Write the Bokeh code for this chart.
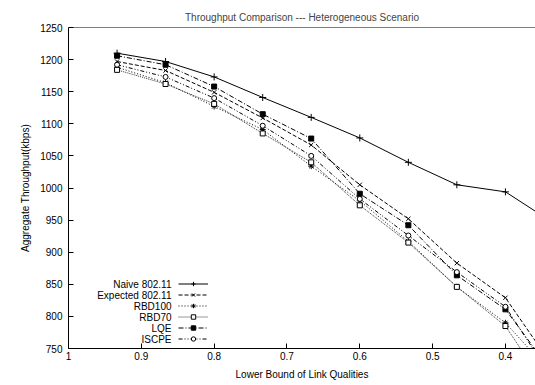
from bokeh.plotting import figure
from bokeh.models import (Range1d, FixedTicker, Legend, LegendItem, Label, Span)
from bokeh.embed import file_html
from bokeh.resources import INLINE

# ---- data ----
link_quality = [0.9333, 0.8667, 0.8, 0.7333, 0.6667, 0.6, 0.5333, 0.4667, 0.4, 0.3333]
naive_80211 = [1210, 1197, 1173, 1141, 1110, 1078, 1040, 1005, 994, 945]
expected_80211 = [1197, 1183, 1149, 1109, 1067, 1005, 952, 883, 829, 720]
rbd100 = [1188, 1164, 1127, 1091, 1034, 980, 917, 846, 790, 707]
rbd70 = [1184, 1162, 1131, 1085, 1040, 973, 915, 846, 785, 672]
lqe = [1206, 1192, 1158, 1115, 1077, 991, 942, 864, 811, 709]
iscpe = [1192, 1173, 1140, 1097, 1050, 983, 926, 869, 815, 700]

series_names = ["Naive 802.11", "Expected 802.11", "RBD100", "RBD70", "LQE", "ISCPE"]
series_values = [naive_80211, expected_80211, rbd100, rbd70, lqe, iscpe]

x_ticks = [1.0, 0.9, 0.8, 0.7, 0.6, 0.5, 0.4]
x_tick_labels = ["1", "0.9", "0.8", "0.7", "0.6", "0.5", "0.4"]
y_ticks = [750, 800, 850, 900, 950, 1000, 1050, 1100, 1150, 1200, 1250]
x_min, x_max = 1.0, 0.3587
y_min, y_max = 750, 1250

# ---- styles ----
FONT = "Liberation Sans"
styles = [
    dict(dash="solid", marker="cross", size=7, fill=None, color="black"),
    dict(dash="4 2", marker="x", size=6, fill=None, color="black"),
    dict(dash="1 2", marker="asterisk", size=6, fill=None, color="black"),
    dict(dash="1 1", marker="square", size=5, fill="white", color="#333333"),
    dict(dash="5 2 1 2", marker="square", size=5, fill="black", color="black"),
    dict(dash="4 2 1 2 1 2", marker="circle", size=5, fill="white", color="black"),
]

p = figure(width=535, height=385, output_backend="svg", toolbar_location=None,
           x_range=Range1d(x_min, x_max), y_range=Range1d(y_min, y_max),
           min_border_left=68, min_border_right=0, min_border_top=27, min_border_bottom=37)

p.title.text = "Throughput Comparison --- Heterogeneous Scenario"
p.title.text_font = FONT
p.title.text_font_size = "10px"
p.title.text_font_style = "normal"
p.title.align = "center"
p.title.offset = -4

p.outline_line_color = None
p.background_fill_color = "white"
p.border_fill_color = "white"
p.xgrid.visible = False
p.ygrid.visible = False

for ax in (p.xaxis[0], p.yaxis[0]):
    ax.axis_line_color = "black"
    ax.axis_line_width = 1
    ax.major_tick_in = 5
    ax.major_tick_out = 0
    ax.minor_tick_line_color = None
    ax.major_tick_line_color = "black"
    ax.major_label_text_font = FONT
    ax.major_label_text_font_size = "10px"
    ax.major_label_text_color = "black"
    ax.axis_label_text_font = FONT
    ax.axis_label_text_font_size = "10px"
    ax.axis_label_text_font_style = "normal"
    ax.axis_label_text_color = "black"

p.xaxis.ticker = FixedTicker(ticks=x_ticks)
p.xaxis.major_label_overrides = dict(zip(x_ticks, x_tick_labels))
p.xaxis.major_label_standoff = 3
p.xaxis.axis_label = "Lower Bound of Link Qualities"
p.xaxis.axis_label_standoff = 6

p.yaxis.ticker = FixedTicker(ticks=y_ticks)
p.yaxis.major_label_standoff = 6
p.yaxis.axis_label = "Aggregate Throughput(kbps)"
p.yaxis.axis_label_standoff = 6

p.add_layout(Span(location=y_max, dimension="width", line_color="black", line_width=1))

items = []
for name, vals, st in zip(series_names, series_values, styles):
    lr = p.line(link_quality, vals, line_color=st["color"], line_width=1, line_dash=st["dash"])
    sr = p.scatter(link_quality, vals, marker=st["marker"], size=st["size"],
                   line_color="black", line_width=1,
                   fill_color=st["fill"] if st["fill"] else None)
    items.append(LegendItem(label=" ", renderers=[lr, sr]))

legend = Legend(items=items, location=(110, 4), glyph_width=30, glyph_height=11,
                label_height=11, label_width=0, label_standoff=0, spacing=0,
                padding=0, margin=0, border_line_color=None, background_fill_alpha=0,
                label_text_font_size="10px")
p.add_layout(legend, "center")

n = len(series_names)
for i, name in enumerate(series_names):
    p.add_layout(Label(x=103, y=4 + 11 * (n - 1 - i) + 5.5, x_units="screen", y_units="screen",
                       text=name, text_align="right", text_baseline="middle",
                       text_font=FONT, text_font_size="10px", text_color="black"))

open("out.html", "w").write(file_html(p, INLINE))
